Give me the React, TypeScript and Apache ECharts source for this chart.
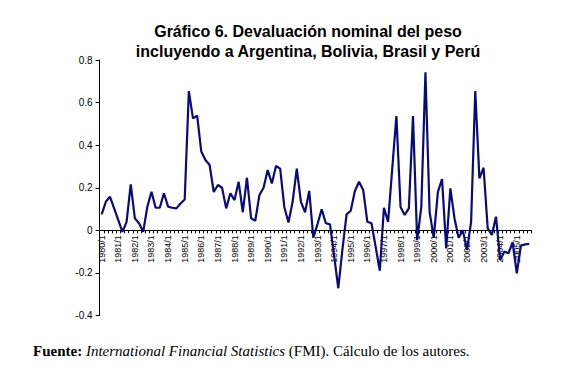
import React, { useEffect, useRef } from "react";
import * as echarts from "echarts";

const years: number[] = [];
for (let y = 1980; y <= 2005; y++) years.push(y);
const quarters = [1, 2, 3, 4];
const categories: string[] = years.flatMap((y) => quarters.map((q) => `${y}/${q}`));

const devaluation: number[] = [
  0.075, 0.134, 0.158, 0.103, 0.048, -0.007, 0.04, 0.216, 0.056, 0.033,
  -0.007, 0.111, 0.181, 0.106, 0.106, 0.174, 0.111, 0.106, 0.103, 0.126,
  0.145, 0.654, 0.526, 0.539, 0.37, 0.33, 0.307, 0.18, 0.213, 0.2,
  0.103, 0.174, 0.142, 0.228, 0.085, 0.247, 0.056, 0.045, 0.166, 0.2,
  0.283, 0.22, 0.302, 0.29, 0.11, 0.037, 0.134, 0.29, 0.134, 0.085,
  0.185, -0.035, 0.03, 0.099, 0.033, 0.028, -0.12, -0.272, -0.09, 0.075,
  0.092, 0.185, 0.228, 0.19, 0.04, 0.033, -0.077, -0.19, 0.106, 0.04,
  0.29, 0.537, 0.11, 0.072, 0.103, 0.537, -0.046, 0.11, 0.742, 0.087,
  -0.035, 0.181, 0.241, -0.085, 0.197, 0.056, -0.035, 0.001, -0.093, 0.04,
  0.654, 0.244, 0.294, 0.009, -0.022, 0.064, -0.14, -0.1, -0.108, -0.056,
  -0.202, -0.072, -0.066, -0.064,
];

const yMin = -0.4;
const yMax = 0.8;
const yStep = 0.2;

const titleText = "Gráfico 6. Devaluación nominal del peso\nincluyendo a Argentina, Bolivia, Brasil y Perú";

const GRID_TOP = 60;
const GRID_BOTTOM = 57.5;
const HEIGHT = 373;

export default function App() {
  const ref = useRef<HTMLDivElement>(null);
  useEffect(() => {
    if (!ref.current) return;
    const chart = echarts.init(ref.current, null, { renderer: "svg" });
    const plotH = HEIGHT - GRID_TOP - GRID_BOTTOM;
    const zeroOffset = -(plotH * (0 - yMin)) / (yMax - yMin);
    chart.setOption({
      animation: false,
      backgroundColor: "#ffffff",
      title: {
        text: titleText,
        left: 303,
        top: 16,
        textAlign: "center",
        textStyle: {
          fontFamily: "Arial, Liberation Sans, sans-serif",
          fontSize: 16,
          fontWeight: "bold",
          color: "#000",
          lineHeight: 20,
        },
      },
      grid: { left: 99.6, right: 33.7, top: GRID_TOP, bottom: GRID_BOTTOM, containLabel: false },
      xAxis: {
        type: "category",
        data: categories,
        boundaryGap: true,
        position: "bottom",
        offset: zeroOffset,
        axisLine: { onZero: false, lineStyle: { color: "#000", width: 1 } },
        axisTick: { show: true, interval: 0, length: 3, inside: false, lineStyle: { color: "#000" } },
        axisLabel: {
          interval: 3,
          rotate: 90,
          margin: 5,
          fontSize: 9,
          fontFamily: "Arial, Liberation Sans, sans-serif",
          color: "#000",
        },
        splitLine: { show: false },
      },
      yAxis: {
        type: "value",
        min: yMin,
        max: yMax,
        interval: yStep,
        axisLine: { show: true, lineStyle: { color: "#000", width: 1 } },
        axisTick: { show: true, length: 4, lineStyle: { color: "#000" } },
        axisLabel: {
          margin: 7,
          fontSize: 10,
          fontFamily: "Arial, Liberation Sans, sans-serif",
          color: "#000",
          formatter: (v: number) => String(Math.round(v * 10) / 10),
        },
        splitLine: { show: false },
      },
      series: [
        {
          type: "line",
          data: devaluation,
          showSymbol: false,
          symbol: "none",
          lineStyle: { color: "#0a0a78", width: 2.2 },
          z: 5,
        },
      ],
      graphic: [
        {
          type: "text",
          left: 33,
          top: 343,
          style: {
            text: "{b|Fuente:} {i|International Financial Statistics} {n|(FMI). Cálculo de los autores.}",
            rich: {
              b: { fontFamily: "Liberation Serif, Times New Roman, serif", fontSize: 15, fontWeight: "bold", fill: "#000" },
              i: { fontFamily: "Liberation Serif, Times New Roman, serif", fontSize: 15, fontStyle: "italic", fill: "#000" },
              n: { fontFamily: "Liberation Serif, Times New Roman, serif", fontSize: 15, fill: "#000" },
            },
            fontFamily: "Liberation Serif, Times New Roman, serif",
            fontSize: 15,
            fill: "#000",
          },
        },
      ],
    });
    return () => chart.dispose();
  }, []);
  return <div ref={ref} style={{ position: "absolute", left: 0, top: 0, width: 565, height: 373 }} />;
}
